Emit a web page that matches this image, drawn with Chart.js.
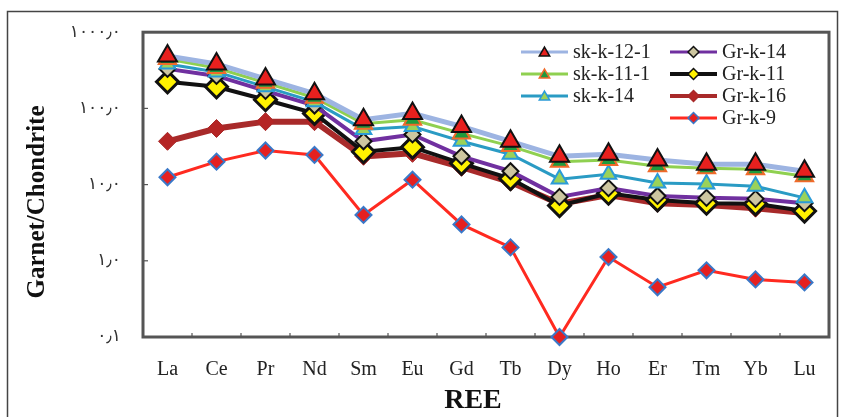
<!DOCTYPE html>
<html>
<head>
<meta charset="utf-8">
<script src="https://cdn.jsdelivr.net/npm/chart.js@4.4.1/dist/chart.umd.min.js"></script>
<style>
  html, body { margin: 0; padding: 0; background: #fff; }
  #wrap { width: 843px; height: 417px; }
</style>
</head>
<body>
<div id="wrap"><canvas id="reeChart" width="843" height="417"></canvas></div>
<script>
// Data
const elements = ['La', 'Ce', 'Pr', 'Nd', 'Sm', 'Eu', 'Gd', 'Tb', 'Dy', 'Ho', 'Er', 'Tm', 'Yb', 'Lu'];
const yTickValues = [0.1, 1, 10, 100, 1000];
const yTickLabels = ['٠٫١', '١٫٠', '١٠٫٠', '١٠٠٫٠', '١٠٠٠٫٠'];

const skk121 = [487, 383, 244, 156, 71, 86, 58, 37, 23.5, 25, 21, 18.5, 18.5, 15];
const skk111 = [445, 339, 217, 138, 63, 71, 47, 32, 20, 21, 17.4, 16.4, 15.9, 12.9];
const skk14  = [383, 301, 192, 122, 53, 58, 37, 25, 11.8, 13.7, 10.5, 10.2, 9.5, 6.7];
const grk14  = [330, 267, 170, 109, 37, 45.5, 23.5, 15, 6.9, 9.0, 7.1, 6.7, 6.5, 5.7];
const grk11  = [223, 192, 130, 86, 27, 31, 19, 12, 5.3, 7.7, 6.3, 5.7, 5.6, 4.5];
const grk16  = [37, 54.5, 67, 67, 23.5, 25.7, 16.9, 10.8, 5.6, 7.3, 5.7, 5.4, 4.9, 4.25];
const grk9   = [12.5, 20, 28, 24.5, 4.0, 11.6, 3.0, 1.5, 0.1, 1.12, 0.45, 0.75, 0.57, 0.52];

const serif = "'Liberation Serif', 'Times New Roman', serif";

function makeSet(label, data, s) {
  return {
    label, data,
    borderColor: s.line, borderWidth: s.width,
    pointStyle: s.style, pointRadius: s.radius, pointHoverRadius: s.radius,
    pointBackgroundColor: s.fill, pointBorderColor: s.border, pointBorderWidth: s.bw,
    legendRadius: s.lr, legendLine: s.ll,
    tension: 0, fill: false, clip: false
  };
}

const datasets = [
  makeSet('sk-k-12-1', skk121, { line: '#9db4e2', width: 5, style: 'triangle', radius: 11, fill: '#e8201e', border: '#111', bw: 2, lr: 6, ll: 3 }),
  makeSet('sk-k-11-1', skk111, { line: '#8fd050', width: 3, style: 'triangle', radius: 10, fill: '#1f9a3c', border: '#f06a2a', bw: 2, lr: 6, ll: 3 }),
  makeSet('sk-k-14', skk14, { line: '#2a9bc4', width: 3, style: 'triangle', radius: 9, fill: '#9ad25a', border: '#2a9bd8', bw: 2, lr: 6, ll: 3 }),
  makeSet('Gr-k-14', grk14, { line: '#7030a0', width: 4, style: 'rectRot', radius: 8, fill: '#cdc6a0', border: '#111', bw: 2, lr: 5.5, ll: 3 }),
  makeSet('Gr-k-11', grk11, { line: '#111', width: 4, style: 'rectRot', radius: 11, fill: '#fff200', border: '#111', bw: 3, lr: 5.5, ll: 4 }),
  makeSet('Gr-k-16', grk16, { line: '#a82a2a', width: 6, style: 'rectRot', radius: 9, fill: '#b52525', border: '#a82a2a', bw: 1, lr: 5.5, ll: 4 }),
  makeSet('Gr-k-9', grk9, { line: '#ff2a20', width: 3, style: 'rectRot', radius: 8, fill: '#e52020', border: '#3a78c8', bw: 2, lr: 5.5, ll: 3 })
];

// legend slots: [line start x, row y]
const legendSlots = [[521, 52], [521, 74], [521, 96], [670, 52], [670, 74], [670, 96], [670, 118]];

const decorPlugin = {
  id: 'decor',
  beforeDatasetsDraw(chart) {
    const { ctx, chartArea: a, scales } = chart;
    ctx.save();
    // outer box
    ctx.strokeStyle = '#444';
    ctx.lineWidth = 1.5;
    ctx.strokeRect(7.5, 11.5, 830, 420);
    // plot frame
    ctx.strokeStyle = '#555';
    ctx.lineWidth = 3;
    ctx.strokeRect(a.left, a.top, a.right - a.left, a.bottom - a.top);
    // inner ticks
    ctx.lineWidth = 1.2;
    ctx.strokeStyle = '#555';
    yTickValues.forEach(v => {
      const y = scales.y.getPixelForValue(v);
      ctx.beginPath(); ctx.moveTo(a.left, y); ctx.lineTo(a.left + 5, y); ctx.stroke();
    });
    for (let i = 1; i < elements.length; i++) {
      const x = (scales.x.getPixelForValue(i - 1) + scales.x.getPixelForValue(i)) / 2;
      ctx.beginPath(); ctx.moveTo(x, a.bottom); ctx.lineTo(x, a.bottom - 4); ctx.stroke();
    }
    // axis titles
    ctx.fillStyle = '#111';
    ctx.font = 'bold 25px ' + serif;
    ctx.textAlign = 'center';
    ctx.textBaseline = 'alphabetic';
    ctx.translate(44, 202);
    ctx.rotate(-Math.PI / 2);
    ctx.fillText('Garnet/Chondrite', 0, 0);
    ctx.restore();
    ctx.save();
    ctx.fillStyle = '#111';
    ctx.font = 'bold 28px ' + serif;
    ctx.textAlign = 'center';
    ctx.fillText('REE', 473, 408);
    ctx.restore();
  },
  afterDraw(chart) {
    const { ctx } = chart;
    const drawPoint = Chart.helpers && Chart.helpers.drawPoint;
    ctx.save();
    chart.data.datasets.forEach((ds, i) => {
      const [x0, y] = legendSlots[i];
      ctx.strokeStyle = ds.borderColor;
      ctx.lineWidth = ds.legendLine;
      ctx.beginPath(); ctx.moveTo(x0, y); ctx.lineTo(x0 + 47, y); ctx.stroke();
      if (drawPoint) {
        ctx.fillStyle = ds.pointBackgroundColor;
        ctx.strokeStyle = ds.pointBorderColor;
        ctx.lineWidth = 1.5;
        drawPoint(ctx, { pointStyle: ds.pointStyle, radius: ds.legendRadius, borderWidth: 1.5, rotation: 0 }, x0 + 23.5, y + (ds.pointStyle === 'triangle' ? 1 : 0));
      }
      ctx.fillStyle = '#222';
      ctx.font = '20px ' + serif;
      ctx.textAlign = 'left';
      ctx.textBaseline = 'middle';
      ctx.fillText(ds.label, x0 + 52, y + 1);
    });
    ctx.restore();
  }
};

new Chart(document.getElementById('reeChart').getContext('2d'), {
  type: 'line',
  data: { labels: elements, datasets },
  options: {
    responsive: false,
    animation: false,
    layout: { padding: { left: 0, top: 30, right: 14, bottom: 0 } },
    plugins: { legend: { display: false }, tooltip: { enabled: false } },
    scales: {
      x: {
        offset: true,
        afterFit: s => { s.height = 80; },
        grid: { display: false, drawTicks: false, offset: true },
        border: { display: false },
        ticks: { padding: 21, color: '#222', font: { family: serif, size: 20 } }
      },
      y: {
        type: 'logarithmic',
        min: 0.1,
        max: 1000,
        afterBuildTicks: s => { s.ticks = yTickValues.map(v => ({ value: v, major: true })); },
        afterFit: s => { s.width = 143; },
        grid: { display: false, drawTicks: false },
        border: { display: false },
        ticks: {
          padding: 22,
          color: '#333',
          font: { family: "'DejaVu Sans', sans-serif", size: 17 },
          callback: (v, i) => yTickLabels[i]
        }
      }
    }
  },
  plugins: [decorPlugin]
});
</script>
</body>
</html>
